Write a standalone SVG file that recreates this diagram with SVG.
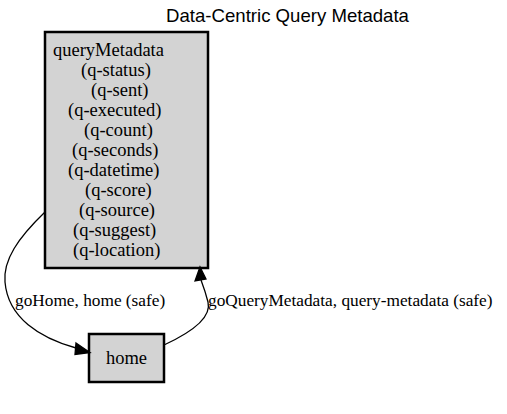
<svg xmlns="http://www.w3.org/2000/svg" width="507" height="414" viewBox="0 0 507 414">
<style>
.node rect{fill:#d3d3d3;stroke:#000;stroke-width:2.5}
.nt{font-family:"Liberation Serif",serif;font-size:18.5px;fill:#000}
.et{font-family:"Liberation Serif",serif;font-size:17.3px;fill:#000}
.title{font-family:"Liberation Sans",sans-serif;font-size:18.6px;fill:#000}
.edge path{fill:none;stroke:#000;stroke-width:1.3}
.edge polygon{fill:#000;stroke:#000;stroke-width:1.3}
</style>
<rect width="507" height="414" fill="#fff"/>
<text class="title" x="287.5" y="22" text-anchor="middle">Data-Centric Query Metadata</text>
<g id="queryMetadata" class="node">
<rect x="45" y="32" width="163" height="236"/>
<text class="nt" x="53" y="56">queryMetadata</text>
<text class="nt" x="81" y="76">(q-status)</text>
<text class="nt" x="91" y="96">(q-sent)</text>
<text class="nt" x="68" y="116">(q-executed)</text>
<text class="nt" x="84" y="136">(q-count)</text>
<text class="nt" x="72" y="156">(q-seconds)</text>
<text class="nt" x="68" y="176">(q-datetime)</text>
<text class="nt" x="85" y="196">(q-score)</text>
<text class="nt" x="79" y="216">(q-source)</text>
<text class="nt" x="73" y="236">(q-suggest)</text>
<text class="nt" x="73" y="256">(q-location)</text>
</g>
<g id="home" class="node">
<rect x="89" y="334" width="75" height="48"/>
<text class="nt" x="126.5" y="364" text-anchor="middle">home</text>
</g>
<g id="connectors">
<g class="edge">
<path d="M45,212 C18,238 3,260 5,282 C8,318 40,338 76,348"/>
<polygon points="76,343 90,352.5 75,354.5"/>
<text class="et" x="15" y="306">goHome, home (safe)</text>
</g>
<g class="edge">
<path d="M164,345 C190,333 212,318 208,302 C206,294 204,288 201,280"/>
<polygon points="195,281 200,267 206,279"/>
<text class="et" x="208" y="306">goQueryMetadata, query-metadata (safe)</text>
</g>
</g>
</svg>
